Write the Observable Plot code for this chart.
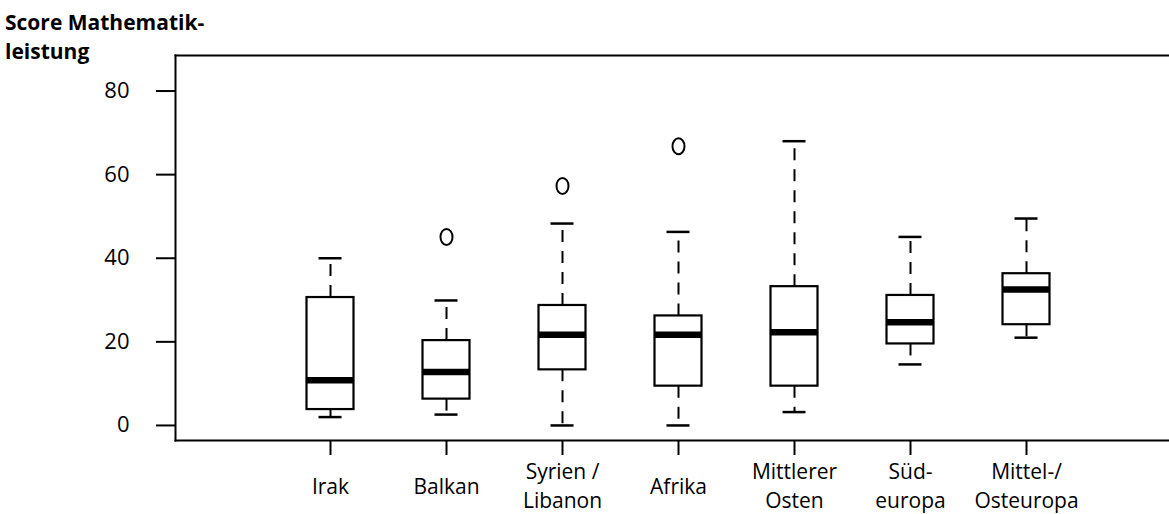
<!DOCTYPE html>
<html>
<head>
<meta charset="utf-8">
<script src="https://cdn.jsdelivr.net/npm/d3@7"></script>
<script src="https://cdn.jsdelivr.net/npm/@observablehq/plot@0.6"></script>
<style>
  html, body { margin: 0; padding: 0; background: #fff; }
  #wrap { position: relative; width: 1169px; height: 514px; }
  #title { position: absolute; left: 5px; top: 8px; font-family: "Open Sans", sans-serif; font-weight: bold; font-size: 21px; line-height: 29px; color: #000; }
</style>
</head>
<body>
<div id="wrap">
  <div id="title">Score Mathematik-<br>leistung</div>
</div>
<script>
// Categories (regions of origin)
const regions = ["Irak", "Balkan", "Syrien / Libanon", "Afrika", "Mittlerer Osten", "Süd-europa", "Mittel-/Osteuropa"];
const regionLabels = ["Irak", "Balkan", "Syrien /\nLibanon", "Afrika", "Mittlerer\nOsten", "Süd-\neuropa", "Mittel-/\nOsteuropa"];

// Box-plot statistics
const whiskerLow  = [2.0, 2.6, 0.0, 0.0, 3.2, 14.6, 21.0];
const q1          = [3.8, 6.3, 13.3, 9.4, 9.4, 19.5, 24.1];
const median      = [10.8, 12.8, 21.7, 21.7, 22.3, 24.7, 32.5];
const q3          = [30.6, 20.3, 28.7, 26.2, 33.2, 31.1, 36.3];
const whiskerHigh = [40.0, 29.9, 48.3, 46.3, 68.0, 45.1, 49.5];

// Outliers
const outlierRegion = ["Balkan", "Syrien / Libanon", "Afrika"];
const outlierValue  = [45.1, 57.3, 66.8];

// Y tick values
const yTicks = [0, 20, 40, 60, 80];

const boxes = regions.map((r, i) => ({
  region: r, label: regionLabels[i],
  lo: whiskerLow[i], q1: q1[i], med: median[i], q3: q3[i], hi: whiskerHigh[i]
}));
const outliers = outlierRegion.map((r, i) => ({region: r, value: outlierValue[i]}));

// elliptical open circle symbol
const ellipse = {
  draw(ctx, size) {
    const r = Math.sqrt(size / Math.PI);
    const rx = r * 0.75, ry = r, k = 0.5523;
    ctx.moveTo(rx, 0);
    ctx.bezierCurveTo(rx, ry * k, rx * k, ry, 0, ry);
    ctx.bezierCurveTo(-rx * k, ry, -rx, ry * k, -rx, 0);
    ctx.bezierCurveTo(-rx, -ry * k, -rx * k, -ry, 0, -ry);
    ctx.bezierCurveTo(rx * k, -ry, rx, -ry * k, rx, 0);
    ctx.closePath();
  }
};

const boxInset = 34.5;
const capInset = 46.5;

const chart = Plot.plot({
  width: 1169,
  height: 514,
  marginLeft: 175,
  marginRight: 0,
  marginTop: 55,
  marginBottom: 74,
  style: {fontFamily: "Open Sans, sans-serif", fontSize: "22px", color: "#000", background: "transparent"},
  x: {domain: regions, range: [271.5, 1083.5], padding: 0, label: null},
  y: {domain: [-3.6, 88.5], label: null},
  marks: [
    // whiskers (dashed, starting at the box)
    Plot.ruleX(boxes, {x: "region", y1: "q3", y2: "hi", stroke: "#000", strokeWidth: 2, strokeDasharray: "12,9"}),
    Plot.ruleX(boxes, {x: "region", y1: "q1", y2: "lo", stroke: "#000", strokeWidth: 2, strokeDasharray: "12,9"}),
    // caps
    Plot.tickY(boxes, {x: "region", y: "hi", stroke: "#000", strokeWidth: 2.5, inset: capInset}),
    Plot.tickY(boxes, {x: "region", y: "lo", stroke: "#000", strokeWidth: 2.5, inset: capInset}),
    // boxes
    Plot.barY(boxes, {x: "region", y1: "q1", y2: "q3", fill: "#fff", stroke: "#000", strokeWidth: 2.2, insetLeft: boxInset, insetRight: boxInset}),
    // medians
    Plot.tickY(boxes, {x: "region", y: "med", stroke: "#000", strokeWidth: 6.5, inset: boxInset}),
    // outliers
    Plot.dot(outliers, {x: "region", y: "value", r: 8, symbol: ellipse, stroke: "#000", strokeWidth: 2, fill: "none"}),
    // frame (open on the right)
    Plot.frame({anchor: "top", stroke: "#000", strokeWidth: 2}),
    Plot.frame({anchor: "left", stroke: "#000", strokeWidth: 2}),
    Plot.frame({anchor: "bottom", stroke: "#000", strokeWidth: 2}),
    // axes
    Plot.axisY({ticks: yTicks, tickSize: 19, tickPadding: 27, strokeWidth: 2, fontSize: 22, label: null}),
    Plot.axisX({tickSize: 15, strokeWidth: 2, tickFormat: () => "", label: null}),
    Plot.text(boxes, {x: "region", text: "label", frameAnchor: "bottom", dy: 44, lineAnchor: "middle", lineHeight: 1.36, fontSize: 21, fill: "#000"})
  ]
});

document.getElementById("wrap").prepend(chart);
chart.style.position = "absolute";
chart.style.left = "0";
chart.style.top = "0";
</script>
</body>
</html>
